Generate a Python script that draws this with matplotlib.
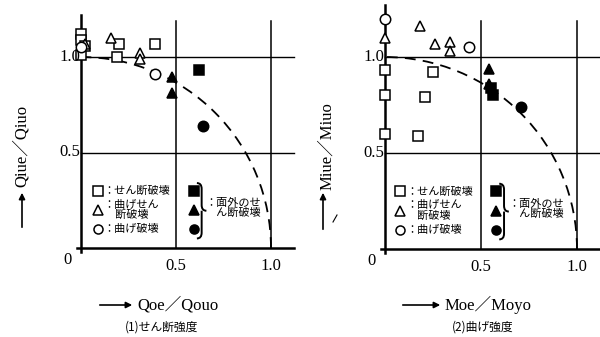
import matplotlib
matplotlib.use("Agg")
import matplotlib.pyplot as plt
from matplotlib.patches import Arc, FancyArrowPatch, PathPatch
from matplotlib.path import Path

# ---- data ----
# (1) shear strength: Qoe/Qouo vs Qiue/Qiuo
q_shear_sq_x = [0.0, 0.0, 0.0, 0.02, 0.20, 0.19, 0.39]
q_shear_sq_y = [1.12, 1.09, 1.01, 1.06, 1.07, 1.00, 1.07]
q_bend_shear_tri_x = [0.16, 0.31, 0.31, 0.02]
q_bend_shear_tri_y = [1.10, 1.02, 0.99, 1.07]
q_bend_circ_x = [0.0, 0.39]
q_bend_circ_y = [1.05, 0.91]
q_oop_sq_x = [0.62]
q_oop_sq_y = [0.93]
q_oop_tri_x = [0.48, 0.48]
q_oop_tri_y = [0.895, 0.81]
q_oop_circ_x = [0.64]
q_oop_circ_y = [0.64]

# (2) bending strength: Moe/Moyo vs Miue/Miuo
m_shear_sq_x = [0.0, 0.0, 0.0, 0.25, 0.21, 0.17]
m_shear_sq_y = [0.93, 0.80, 0.60, 0.92, 0.79, 0.59]
m_bend_shear_tri_x = [0.0, 0.18, 0.26, 0.34, 0.34]
m_bend_shear_tri_y = [1.10, 1.16, 1.07, 1.08, 1.03]
m_bend_circ_x = [0.0, 0.44]
m_bend_circ_y = [1.20, 1.05]
m_oop_sq_x = [0.55, 0.56]
m_oop_sq_y = [0.84, 0.80]
m_oop_tri_x = [0.54, 0.54]
m_oop_tri_y = [0.94, 0.86]
m_oop_circ_x = [0.71]
m_oop_circ_y = [0.74]

x_ticks = [0.5, 1.0]
y_ticks = [0.5, 1.0]
tick_labels = ["0.5", "1.0"]

legend_open = ["：せん断破壊", "：曲げせん\n　断破壊", "：曲げ破壊"]
legend_filled = "：面外のせ\n　ん断破壊"

SERIF = ["Liberation Serif", "Noto Sans CJK JP"]
JP = ["Noto Sans CJK JP", "DejaVu Sans"]

W, H = 600, 337
fig = plt.figure(figsize=(6.0, 3.37), dpi=100)


def make_axes(x0, sx, y0, sy):
    xl, xr, yb, yt = -0.25, 1.2, -0.2, 1.3
    left = (x0 + xl * sx) / W
    width = (xr - xl) * sx / W
    bottom = (H - (y0 - yb * sy)) / H
    height = (yt - yb) * sy / H
    ax = fig.add_axes([left, bottom, width, height])
    ax.set_xlim(xl, xr)
    ax.set_ylim(yb, yt)
    ax.axis("off")
    return ax


def frame(ax, ytop):
    ax.plot([0, 0], [-0.02, ytop], color="black", lw=1.8)
    ax.plot([-0.02, 1.12], [0, 0], color="black", lw=1.8)
    for v in y_ticks:
        ax.plot([0, 1.12], [v, v], color="black", lw=1.0)
    for v in x_ticks:
        ax.plot([v, v], [0, 1.19], color="black", lw=1.1)
    for v, lab in zip(y_ticks, tick_labels):
        ax.text(-0.005, v, lab, ha="right", va="center", fontsize=12, family=SERIF)
        ax.text(v, -0.05, lab, ha="center", va="top", fontsize=12, family=SERIF)
    ax.text(-0.05, -0.02, "0", ha="right", va="top", fontsize=12, family=SERIF)
    ax.add_patch(Arc((0, 0), 2, 2, theta1=0, theta2=90, color="black",
                     lw=1.3, ls=(0, (6, 4))))


def points(ax, xs, ys, marker, filled, ms):
    ax.plot(xs, ys, ls="none", marker=marker, ms=ms, mew=1.1,
            mec="black", mfc="black" if filled else "white", clip_on=False)


def brace(ax, x, y0, y1):
    w = 0.025
    ym = (y0 + y1) / 2
    verts = [(x - w, y1), (x, y1), (x, y1 - 0.03), (x, ym + 0.03),
             (x, ym), (x + w, ym), (x + w, ym),
             (x, ym), (x, ym - 0.03), (x, y0 + 0.03),
             (x, y0), (x - w, y0), (x - w, y0)]
    codes = [Path.MOVETO, Path.CURVE3, Path.CURVE3, Path.LINETO,
             Path.CURVE3, Path.CURVE3, Path.LINETO,
             Path.MOVETO, Path.CURVE3, Path.LINETO,
             Path.CURVE3, Path.CURVE3, Path.LINETO]
    ax.add_patch(PathPatch(Path(verts, codes), fc="none", ec="black",
                           lw=1.4, clip_on=False))


def legend(ax, lx, fx):
    ys = [0.30, 0.20, 0.10]
    for y, m, lab in zip(ys, ["s", "^", "o"], legend_open):
        points(ax, [lx], [y], m, False, 6.5)
        ax.text(lx + 0.03, y, lab, ha="left", va="center", fontsize=8,
                family=JP, linespacing=1.0)
    for y, m in zip(ys, ["s", "^", "o"]):
        points(ax, [fx], [y], m, True, 6.5)
    brace(ax, fx + 0.04, 0.05, 0.34)
    ax.text(fx + 0.06, 0.21, legend_filled, ha="left", va="center",
            fontsize=8, family=JP, linespacing=1.0)


# panel (1)
ax1 = make_axes(81, 190, 248, 191)
frame(ax1, 1.22)
points(ax1, q_shear_sq_x, q_shear_sq_y, "s", False, 6.5)
points(ax1, q_bend_shear_tri_x, q_bend_shear_tri_y, "^", False, 7.5)
points(ax1, q_bend_circ_x, q_bend_circ_y, "o", False, 7.5)
points(ax1, q_oop_sq_x, q_oop_sq_y, "s", True, 6.5)
points(ax1, q_oop_tri_x, q_oop_tri_y, "^", True, 7.5)
points(ax1, q_oop_circ_x, q_oop_circ_y, "o", True, 7.5)
legend(ax1, 0.09, 0.595)

# panel (2)
ax2 = make_axes(385, 192, 249, 192)
frame(ax2, 1.27)
points(ax2, m_shear_sq_x, m_shear_sq_y, "s", False, 6.5)
points(ax2, m_bend_shear_tri_x, m_bend_shear_tri_y, "^", False, 7.5)
points(ax2, m_bend_circ_x, m_bend_circ_y, "o", False, 7.5)
points(ax2, m_oop_sq_x, m_oop_sq_y, "s", True, 6.5)
points(ax2, m_oop_tri_x, m_oop_tri_y, "^", True, 7.5)
points(ax2, m_oop_circ_x, m_oop_circ_y, "o", True, 7.5)
legend(ax2, 0.08, 0.58)

# axis titles with arrows
arrow = dict(arrowstyle="-|>", color="black", lw=1.2, mutation_scale=9)


def fig_arrow(p0, p1):
    fig.patches.append(FancyArrowPatch((p0[0] / W, 1 - p0[1] / H),
                                       (p1[0] / W, 1 - p1[1] / H),
                                       transform=fig.transFigure, **arrow))


fig.text(22 / W, 1 - 146 / H, "Qiue／Qiuo", rotation=90, ha="center",
         va="center", fontsize=12, family=SERIF)
fig_arrow((22, 230), (22, 190))
fig.text(327 / W, 1 - 146 / H, "Miue／Miuo", rotation=90, ha="center",
         va="center", fontsize=12, family=SERIF)
fig_arrow((323, 232), (323, 190))
fig.add_artist(plt.Line2D([333 / W, 337 / W], [1 - 222 / H, 1 - 215 / H],
                          color="black", lw=0.8))

fig_arrow((97, 305), (135, 305))
fig.text(137 / W, 1 - 305 / H, "Qoe／Qouo", ha="left", va="center",
         fontsize=12, family=SERIF)
fig.text(162 / W, 1 - 327 / H, "(1)せん断強度", ha="center", va="center",
         fontsize=8.5, family=JP)

fig_arrow((400, 305), (443, 305))
fig.text(445 / W, 1 - 305 / H, "Moe／Moyo", ha="left", va="center",
         fontsize=12, family=SERIF)
fig.text(483 / W, 1 - 327 / H, "(2)曲げ強度", ha="center", va="center",
         fontsize=8.5, family=JP)

fig.savefig("out.png", dpi=100)
